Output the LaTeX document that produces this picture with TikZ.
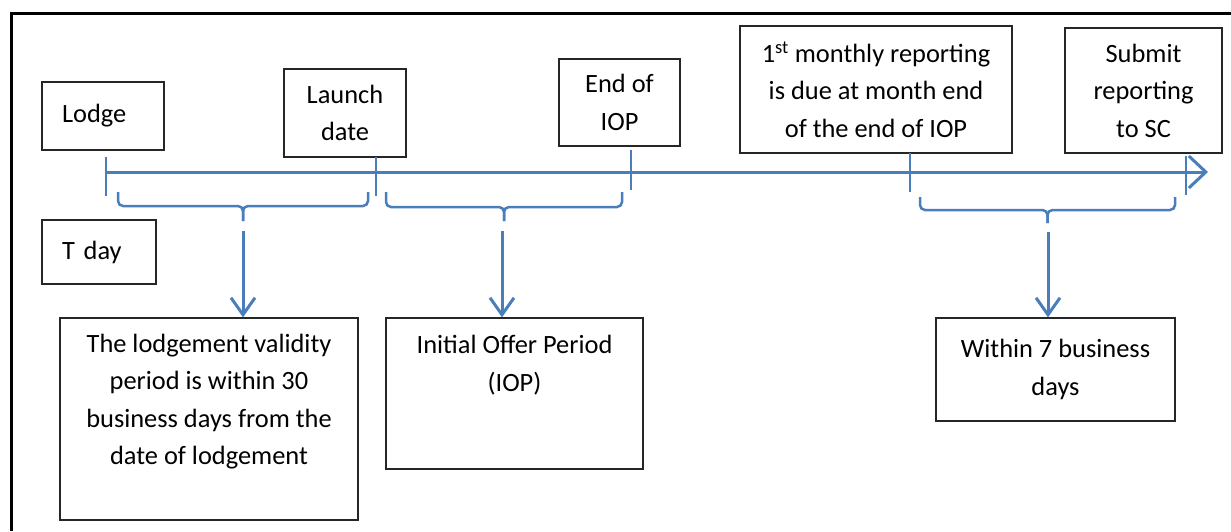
\documentclass[tikz,border=0pt]{standalone}
\usepackage{fontspec}
\setmainfont{Carlito}
\usetikzlibrary{arrows.meta}

\definecolor{tlblue}{RGB}{74,126,187}

\begin{document}
\begin{tikzpicture}[x=1pt,y=-1pt,
  every node/.style={font=\fontsize{26.4}{37.5}\selectfont},
  stepbox/.style={draw=black!85,line width=1.3pt,inner sep=0pt,align=center},
  tline/.style={tlblue,line width=3pt},
  tickmark/.style={tlblue,line width=2.5pt},
  spanbrace/.style={tlblue,line width=2.5pt,rounded corners=5pt},
  downarrow/.style={tlblue,line width=3pt,-{Straight Barb[length=17pt,width=24pt]}}]
\useasboundingbox (0,0) rectangle (1231,531);
% frame
\draw[line width=3pt] (11,531) -- (11,13) -- (1231,13);
% event boxes
\node[stepbox,minimum width=122pt,minimum height=68pt,text width=82pt,align=left] (lodge) at (103,116) {Lodge};
\node[stepbox,minimum width=114pt,minimum height=64pt,text width=74pt,align=left] (tday) at (99,252) {T day};
\node[stepbox,minimum width=122pt,minimum height=88pt] (launch) at (345,113) {Launch\\date};
\node[stepbox,minimum width=121pt,minimum height=87pt] (endiop) at (619.5,102.5) {End of\\IOP};
\node[stepbox,minimum width=272pt,minimum height=127pt] (monthly) at (876,89.5) {1\textsuperscript{st} monthly reporting\\is due at month end\\of the end of IOP};
\node[stepbox,minimum width=157pt,minimum height=125pt] (submit) at (1143.5,90.5) {Submit\\reporting\\to SC};
% period boxes
\node[stepbox,minimum width=298pt,minimum height=202pt] (validity) at (209,419) {};
\node[align=center] (validitytext) at (209,401.5) {The lodgement validity\\period is within 30\\business days from the\\date of lodgement};
\node[stepbox,minimum width=257pt,minimum height=151pt] (iop) at (514.5,393.5) {};
\node[align=center] (ioptext) at (514.5,365) {Initial Offer Period\\(IOP)};
\node[stepbox,minimum width=239pt,minimum height=103pt] (within) at (1055.5,369.5) {Within 7 business\\days};
% timeline
\coordinate (tlstart) at (106,172);
\coordinate (tlend) at (1208,172);
\draw[tline,-{Straight Barb[length=17pt,width=32pt]}] (tlstart) -- (tlend);
\draw[tickmark] (106,157) -- (106,196);
\draw[tickmark] (376,157) -- (376,196);
\draw[tickmark] (631,150) -- (631,190);
\draw[tickmark] (910,153) -- (910,192);
\draw[tickmark] (1186,156) -- (1186,195);
% braces, each drawn as two halves meeting at the tip
\draw[spanbrace] (118,192) -- (118,206) -- (243,206) -- (243,221);
\draw[spanbrace] (368,192) -- (368,206) -- (243,206) -- (243,221);
\draw[spanbrace] (386,192) -- (386,207) -- (504,207) -- (504,221);
\draw[spanbrace] (622,192) -- (622,207) -- (504,207) -- (504,221);
\draw[spanbrace] (920,197) -- (920,210) -- (1047.5,210) -- (1047.5,223);
\draw[spanbrace] (1175,197) -- (1175,210) -- (1047.5,210) -- (1047.5,223);
% arrows down to the periods
\coordinate (gap1) at (243,231);
\coordinate (gap2) at (502,231);
\coordinate (gap3) at (1048,232);
\draw[downarrow] (gap1) -- (gap1 |- validity.north);
\draw[downarrow] (gap2) -- (gap2 |- iop.north);
\draw[downarrow] (gap3) -- (gap3 |- within.north);
\end{tikzpicture}
\end{document}
